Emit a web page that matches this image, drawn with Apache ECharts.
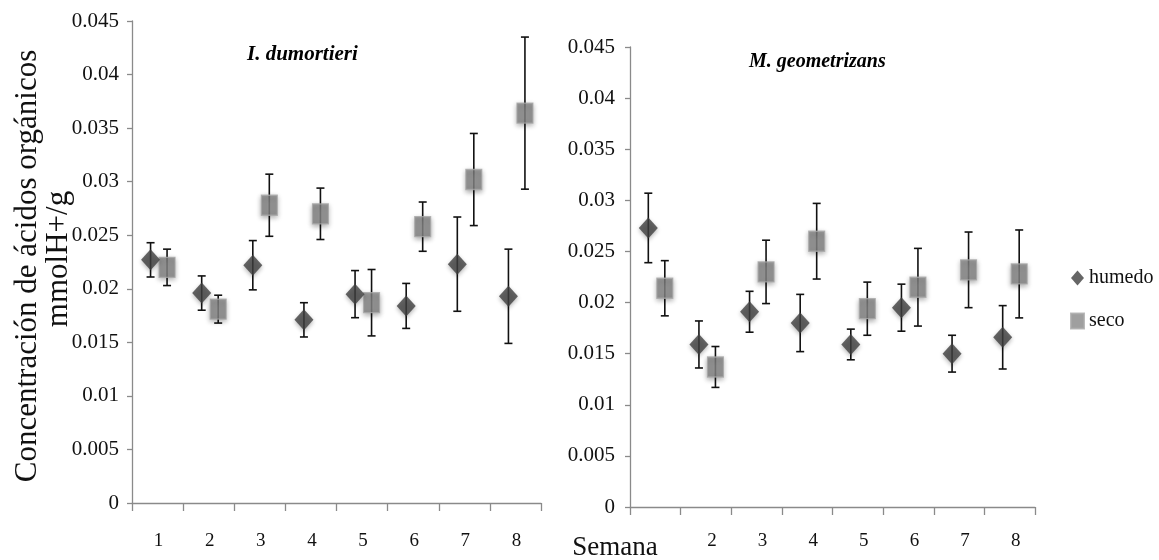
<!DOCTYPE html>
<html>
<head>
<meta charset="utf-8">
<script src="https://cdn.jsdelivr.net/npm/echarts@6/dist/echarts.min.js"></script>
<style>
  html, body { margin: 0; padding: 0; background: #fff; }
  #chart { width: 1159px; height: 560px; }
</style>
</head>
<body>
<div id="chart"></div>
<script>
// weeks (Semana)
const weeks = ['1', '2', '3', '4', '5', '6', '7', '8'];

// I. dumortieri
const dumHumedo = [0.0227, 0.0196, 0.0222, 0.0171, 0.0195, 0.0184, 0.0223, 0.0193];
const dumHumedoErr = [0.0016, 0.0016, 0.0023, 0.0016, 0.0022, 0.0021, 0.0044, 0.0044];
const dumSeco = [0.0220, 0.0181, 0.0278, 0.0270, 0.0187, 0.0258, 0.0302, 0.0364];
const dumSecoErr = [0.0017, 0.0013, 0.0029, 0.0024, 0.0031, 0.0023, 0.0043, 0.0071];

// M. geometrizans
const geoHumedo = [0.0273, 0.0159, 0.0191, 0.0180, 0.0159, 0.0195, 0.0150, 0.0166];
const geoHumedoErr = [0.0034, 0.0023, 0.0020, 0.0028, 0.0015, 0.0023, 0.0018, 0.0031];
const geoSeco = [0.0214, 0.0137, 0.0230, 0.0260, 0.0194, 0.0215, 0.0232, 0.0228];
const geoSecoErr = [0.0027, 0.0020, 0.0031, 0.0037, 0.0026, 0.0038, 0.0037, 0.0043];

const FONT = '"Liberation Serif", "Times New Roman", serif';
const HUMEDO_OFF = -7;
const SECO_OFF = 9.5;

function errData(vals, errs) {
    return vals.map((v, i) => [i, v - errs[i], v + errs[i]]);
}

function errorBars(offset) {
    return function (params, api) {
        const i = api.value(0);
        const lo = api.coord([i, api.value(1)]);
        const hi = api.coord([i, api.value(2)]);
        const x = lo[0] + offset;
        const st = {stroke: '#111', lineWidth: 1.6};
        return {
            type: 'group',
            children: [
                {type: 'line', shape: {x1: x, y1: hi[1], x2: x, y2: lo[1]}, style: st},
                {type: 'line', shape: {x1: x - 4, y1: hi[1], x2: x + 4, y2: hi[1]}, style: st},
                {type: 'line', shape: {x1: x - 4, y1: lo[1], x2: x + 4, y2: lo[1]}, style: st}
            ]
        };
    };
}

const humedoStyle = {
    color: '#404040',
    shadowBlur: 4,
    shadowColor: 'rgba(0,0,0,0.35)',
    shadowOffsetY: 2
};
const secoStyle = {
    color: '#878787',
    borderColor: '#a9a9a9',
    borderWidth: 1.2,
    shadowBlur: 5,
    shadowColor: 'rgba(0,0,0,0.4)',
    shadowOffsetY: 2
};

function xAxisFor(gridIndex, hideFirst, labelShift, margin) {
    return {
        type: 'category',
        gridIndex: gridIndex,
        data: weeks,
        boundaryGap: true,
        axisLine: {lineStyle: {color: '#8a8a8a', width: 1.3}},
        axisTick: {show: true, interval: 0, length: 8, lineStyle: {color: '#8a8a8a', width: 1.3}},
        axisLabel: {
            interval: 0,
            color: '#111',
            fontFamily: FONT,
            fontSize: 19,
            margin: margin,
            padding: [0, 0, 0, labelShift],
            formatter: (v, i) => (hideFirst && i === 0 ? '' : v)
        },
        splitLine: {show: false}
    };
}

function yAxisFor(gridIndex, margin) {
    return {
        type: 'value',
        gridIndex: gridIndex,
        min: 0,
        max: 0.045,
        interval: 0.005,
        axisLine: {show: true, lineStyle: {color: '#8a8a8a', width: 1.3}},
        axisTick: {show: true, length: 5, lineStyle: {color: '#8a8a8a', width: 1.3}},
        axisLabel: {
            color: '#111',
            fontFamily: FONT,
            fontSize: 21,
            margin: margin,
            formatter: v => (v === 0 ? '0' : String(+v.toFixed(3)))
        },
        splitLine: {show: false}
    };
}

function panelSeries(idx, hum, humErr, sec, secErr) {
    return [
        {
            type: 'custom',
            xAxisIndex: idx, yAxisIndex: idx,
            renderItem: errorBars(HUMEDO_OFF),
            encode: {x: 0, y: [1, 2]},
            data: errData(hum, humErr),
            z: 1, silent: true
        },
        {
            type: 'custom',
            xAxisIndex: idx, yAxisIndex: idx,
            renderItem: errorBars(SECO_OFF),
            encode: {x: 0, y: [1, 2]},
            data: errData(sec, secErr),
            z: 1, silent: true
        },
        {
            name: 'humedo',
            type: 'scatter',
            xAxisIndex: idx, yAxisIndex: idx,
            symbol: 'diamond',
            symbolSize: [19, 21],
            symbolOffset: [HUMEDO_OFF, 0],
            itemStyle: humedoStyle,
            data: hum,
            z: 3
        },
        {
            name: 'seco',
            type: 'scatter',
            xAxisIndex: idx, yAxisIndex: idx,
            symbol: 'rect',
            symbolSize: [16, 20],
            symbolOffset: [SECO_OFF, 0],
            itemStyle: secoStyle,
            data: sec,
            z: 2
        }
    ];
}

function getOption() {
    return {
        animation: false,
        backgroundColor: '#fff',
        textStyle: {fontFamily: FONT},
        grid: [
            {left: 132, top: 21, width: 409, height: 482},
            {left: 630, top: 47, width: 405, height: 460}
        ],
        xAxis: [xAxisFor(0, false, 2, 29), xAxisFor(1, true, 12, 25)],
        yAxis: [yAxisFor(0, 13), yAxisFor(1, 15)],
        legend: {
            orient: 'vertical',
            left: 1065,
            top: 263,
            itemWidth: 13,
            itemHeight: 15,
            itemGap: 23,
            textStyle: {fontFamily: FONT, fontSize: 20, color: '#111'},
            data: [
                {name: 'humedo', icon: 'diamond'},
                {name: 'seco', icon: 'rect'}
            ]
        },
        graphic: [
            {
                type: 'text', left: 247, top: 44,
                style: {text: 'I. dumortieri', font: 'italic bold 21px ' + FONT, fill: '#000'}
            },
            {
                type: 'text', left: 749, top: 52,
                style: {text: 'M. geometrizans', font: 'italic bold 20px ' + FONT, fill: '#000'}
            },
            {
                type: 'text', x: 28, y: 266, rotation: Math.PI / 2,
                style: {
                    text: 'Concentración de ácidos orgánicos',
                    font: '31px ' + FONT, fill: '#111',
                    align: 'center', verticalAlign: 'middle'
                }
            },
            {
                type: 'text', x: 59, y: 259, rotation: Math.PI / 2,
                style: {
                    text: 'mmolH+/g',
                    font: '31px ' + FONT, fill: '#111',
                    align: 'center', verticalAlign: 'middle'
                }
            },
            {
                type: 'text', x: 615, y: 548,
                style: {
                    text: 'Semana',
                    font: '27px ' + FONT, fill: '#111',
                    align: 'center', verticalAlign: 'middle'
                }
            }
        ],
        series: [
            ...panelSeries(0, dumHumedo, dumHumedoErr, dumSeco, dumSecoErr),
            ...panelSeries(1, geoHumedo, geoHumedoErr, geoSeco, geoSecoErr)
        ]
    };
}

const chart = echarts.init(document.getElementById('chart'));
chart.setOption(getOption());
window.addEventListener('resize', () => chart.resize());
</script>
</body>
</html>
